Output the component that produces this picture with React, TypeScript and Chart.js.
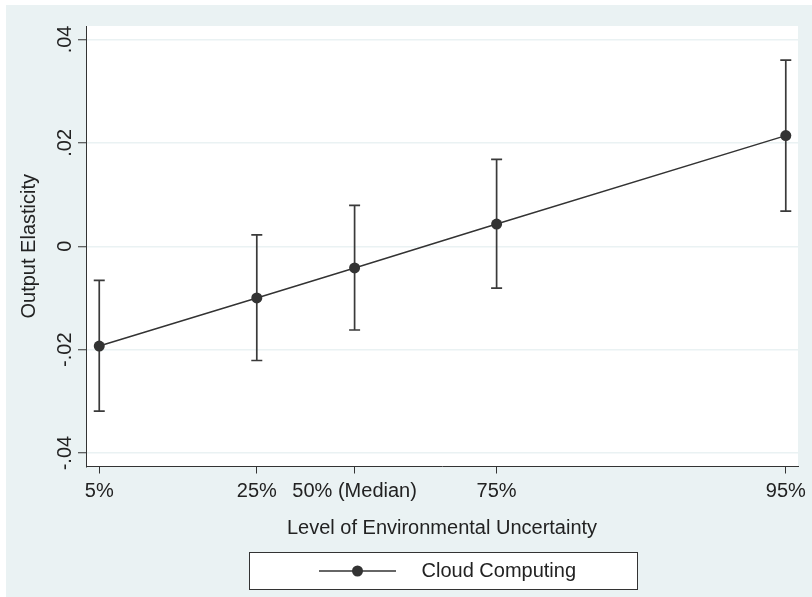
import { useEffect, useRef } from "react";
import { Chart, registerables } from "chart.js";

Chart.register(...registerables);

// ---- data ----
const seriesLabel = "Cloud Computing";
const xTitle = "Level of Environmental Uncertainty";
const yTitle = "Output Elasticity";
const xTickLabels = ["5%", "25%", "50% (Median)", "75%", "95%"];
const uncertaintyLevels = [0.0934, 0.2527, 0.3516, 0.4952, 0.7876];
const elasticity = [-0.0193, -0.01, -0.0042, 0.0043, 0.0214];
const ciLower = [-0.0319, -0.0221, -0.0162, -0.0081, 0.0068];
const ciUpper = [-0.0066, 0.0022, 0.0079, 0.0168, 0.036];
const yTickValues = [-0.04, -0.02, 0, 0.02, 0.04];
const yTickLabels = ["-.04", "-.02", "0", ".02", ".04"];

const FONT = '"Liberation Sans", Arial, Helvetica, sans-serif';
const INK = "#333333";
const BG = "#eaf2f3";

const stataPlugin = {
  id: "stataLook",
  beforeDraw(chart: any) {
    const { ctx, chartArea: a, width, height } = chart;
    ctx.save();
    ctx.fillStyle = "#ffffff";
    ctx.fillRect(0, 0, width, height);
    ctx.fillStyle = BG;
    ctx.fillRect(6, 5, width - 6, height - 5);
    ctx.fillStyle = "#ffffff";
    ctx.fillRect(a.left, a.top, a.right - a.left, a.bottom - a.top);
    ctx.restore();
  },
  beforeDatasetsDraw(chart: any) {
    const { ctx } = chart;
    const xs = chart.scales.x;
    const ys = chart.scales.y;
    ctx.save();
    ctx.strokeStyle = "#3a3a3a";
    ctx.lineWidth = 1.7;
    const cap = 5.5;
    uncertaintyLevels.forEach((xv, i) => {
      const px = xs.getPixelForValue(xv);
      const pLo = ys.getPixelForValue(ciLower[i]);
      const pHi = ys.getPixelForValue(ciUpper[i]);
      ctx.beginPath();
      ctx.moveTo(px, pLo);
      ctx.lineTo(px, pHi);
      ctx.moveTo(px - cap, pLo);
      ctx.lineTo(px + cap, pLo);
      ctx.moveTo(px - cap, pHi);
      ctx.lineTo(px + cap, pHi);
      ctx.stroke();
    });
    ctx.restore();
  },
  afterDraw(chart: any) {
    const { ctx } = chart;
    const ys = chart.scales.y;
    ctx.save();
    // rotated y tick labels
    ctx.fillStyle = "#222";
    ctx.font = `20px ${FONT}`;
    ctx.textAlign = "center";
    ctx.textBaseline = "alphabetic";
    ys.ticks.forEach((t: any) => {
      const py = ys.getPixelForValue(t.value);
      ctx.save();
      ctx.translate(71, py);
      ctx.rotate(-Math.PI / 2);
      ctx.fillText(String(t.label), 0, 0);
      ctx.restore();
    });
    // legend
    const lx = 249.5, ly = 552.5, lw = 388, lh = 37;
    ctx.fillStyle = "#ffffff";
    ctx.fillRect(lx, ly, lw, lh);
    ctx.strokeStyle = INK;
    ctx.lineWidth = 1;
    ctx.strokeRect(lx, ly, lw, lh);
    const cy = 571;
    ctx.strokeStyle = INK;
    ctx.lineWidth = 1.5;
    ctx.beginPath();
    ctx.moveTo(319, cy);
    ctx.lineTo(396, cy);
    ctx.stroke();
    ctx.fillStyle = INK;
    ctx.beginPath();
    ctx.arc(357.5, cy, 5.5, 0, Math.PI * 2);
    ctx.fill();
    ctx.fillStyle = "#222";
    ctx.textAlign = "left";
    ctx.textBaseline = "middle";
    ctx.fillText(chart.data.datasets[0].label, 421.5, cy);
    ctx.restore();
  },
};

export default function App() {
  const ref = useRef<HTMLCanvasElement | null>(null);

  useEffect(() => {
    document.body.style.margin = "0";
    const canvas = ref.current;
    if (!canvas) return;
    const chart = new Chart(canvas, {
      type: "line",
      data: {
        datasets: [
          {
            label: seriesLabel,
            data: uncertaintyLevels.map((x, i) => ({ x, y: elasticity[i] })),
            borderColor: INK,
            backgroundColor: INK,
            borderWidth: 1.5,
            pointRadius: 5.5,
            pointHoverRadius: 5.5,
            pointBackgroundColor: INK,
            pointBorderWidth: 0,
            tension: 0,
          },
        ],
      },
      options: {
        animation: false,
        responsive: false,
        devicePixelRatio: 1,
        layout: { padding: { top: 26, right: 12, left: 0, bottom: 0 } },
        plugins: { legend: { display: false }, tooltip: { enabled: false } },
        scales: {
          x: {
            type: "linear",
            min: 0.08,
            max: 0.8,
            afterBuildTicks: (s: any) => {
              s.ticks = uncertaintyLevels.map((v) => ({ value: v }));
            },
            afterFit: (s: any) => {
              s.height = 130.5;
            },
            grid: {
              display: true,
              drawOnChartArea: false,
              drawTicks: true,
              tickLength: 7,
              tickColor: INK,
              tickWidth: 1,
            },
            border: { display: true, color: INK, width: 1 },
            ticks: {
              autoSkip: false,
              maxRotation: 0,
              minRotation: 0,
              padding: 6,
              color: "#222",
              font: { family: FONT, size: 20 },
              callback: (_v: any, i: number) => xTickLabels[i],
            },
            title: {
              display: true,
              text: xTitle,
              color: "#222",
              font: { family: FONT, size: 20 },
              padding: { top: 0, bottom: 57 },
            },
          },
          y: {
            type: "linear",
            min: -0.0426,
            max: 0.0426,
            afterBuildTicks: (s: any) => {
              s.ticks = yTickValues.map((v) => ({ value: v }));
            },
            afterFit: (s: any) => {
              s.width = 86;
            },
            grid: {
              display: true,
              drawOnChartArea: true,
              color: BG,
              lineWidth: 1.5,
              drawTicks: true,
              tickLength: 8,
              tickColor: INK,
              tickWidth: 1,
            },
            border: { display: true, color: INK, width: 1 },
            ticks: {
              display: false,
              callback: (v: any) => yTickLabels[yTickValues.indexOf(Number(v))] ?? "",
            },
            title: {
              display: true,
              text: yTitle,
              color: "#222",
              font: { family: FONT, size: 20 },
              padding: { top: 17, bottom: 0 },
            },
          },
        },
      },
      plugins: [stataPlugin],
    });
    return () => chart.destroy();
  }, []);

  return (
    <div style={{ width: 812, height: 597 }}>
      <canvas ref={ref} width={812} height={597} style={{ display: "block" }} />
    </div>
  );
}
